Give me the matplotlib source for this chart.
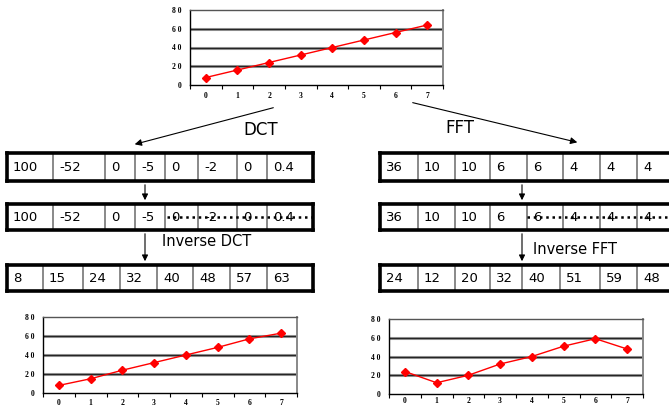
import matplotlib
matplotlib.use('Agg')
import matplotlib.pyplot as plt
import numpy as np

# data
positions = list(range(8))
original = [8, 16, 24, 32, 40, 48, 56, 64]
dctCoef = ['100', '-52', '0', '-5', '0', '-2', '0', '0.4']
inverseDct = [8, 15, 24, 32, 40, 48, 57, 63]
fftCoef = ['36', '10', '10', '6', '6', '4', '4', '4']
inverseFft = [24, 12, 20, 32, 40, 51, 59, 48]
yTicks = [0, 20, 40, 60, 80]

W, H = 669, 408
fig = plt.figure(figsize=(W / 100, H / 100), dpi=100)


def px_axes(left, top, right, bottom):
	return fig.add_axes([left / W, 1 - bottom / H, (right - left) / W, (bottom - top) / H])


# overlay for the tables / arrows, in pixel coords
ov = fig.add_axes([0, 0, 1, 1])
ov.set_xlim(0, W)
ov.set_ylim(H, 0)
ov.axis('off')

tickFont = dict(family='Liberation Serif', weight='bold', size=5.5)
cellFont = dict(family='DejaVu Sans', size=9.5)


def draw_chart(ax, vals, xpad=5):
	for g in [20, 40, 60]:
		ax.axhline(g, color='#8c8c8c', lw=2.2, zorder=1)
		ax.axhline(g, color='#111111', lw=0.6, zorder=1)
	ax.plot(positions, vals, color='red', marker='D', ms=3.8, lw=1, zorder=3)
	ax.set_xlim(-0.5, 7.5)
	ax.set_ylim(0, 80)
	ax.set_xticks(positions)
	ax.set_xticklabels([str(p) for p in positions], fontdict=tickFont)
	ax.set_xticks(np.arange(-0.5, 8, 1), minor=True)
	ax.tick_params(axis='x', which='major', length=0, pad=xpad)
	ax.tick_params(axis='x', which='minor', length=3, width=0.8, direction='out')
	ax.set_yticks(yTicks)
	ax.set_yticklabels([' '.join(str(t)) for t in yTicks], fontdict=tickFont)
	ax.tick_params(axis='y', length=0, pad=6)
	ax.spines['left'].set_linewidth(1)
	ax.spines['bottom'].set_linewidth(1)
	ax.spines['top'].set_color('#555555')
	ax.spines['top'].set_linewidth(1)
	ax.spines['right'].set_color('#888888')
	ax.spines['right'].set_linewidth(1.4)


def draw_row(edges, yTop, yBot, values, dotFrom=None, closeRight=True):
	xl, xr = edges[0], edges[-1]
	for x in edges[1:-1]:
		ov.plot([x, x], [yTop, yBot], color='#6a6a6a', lw=1.1)
	ov.plot([xl, xr], [yTop, yTop], color='black', lw=2.6, solid_capstyle='projecting')
	ov.plot([xl, xr], [yBot, yBot], color='black', lw=2.6, solid_capstyle='projecting')
	ov.plot([xl, xl], [yTop, yBot], color='black', lw=2.6)
	if closeRight:
		ov.plot([xr, xr], [yTop, yBot], color='black', lw=2.6)
	for i, v in enumerate(values):
		ov.text(edges[i] + 6, (yTop + yBot) / 2 + 0.5, v, ha='left', va='center', **cellFont)
	if dotFrom is not None:
		ov.plot([dotFrom, xr], [(yTop + yBot) / 2] * 2, color='black', lw=1.8, ls=(0, (1, 1.5)))


def down_arrow(x, y0, y1):
	ov.annotate('', xy=(x, y1), xytext=(x, y0),
		arrowprops=dict(arrowstyle='-|>', color='black', lw=0.8, mutation_scale=9))


# left side (DCT)
dctEdges = [7, 53, 105, 135, 165, 198, 237, 267, 313]
invDctEdges = [7, 43, 83, 120, 157, 193, 230, 267, 313]
draw_row(dctEdges, 153, 181, dctCoef)
draw_row(dctEdges, 204, 230, dctCoef, dotFrom=167)
draw_row(invDctEdges, 265, 291, [str(v) for v in inverseDct])
down_arrow(145, 182, 203)
down_arrow(145, 231, 264)
ov.text(162, 241, 'Inverse DCT', ha='left', va='center', fontsize=10.5, family='DejaVu Sans')

# right side (FFT)
fftEdges = [380, 418, 455, 490, 527, 563, 600, 637, 680]
invFftEdges = [380, 418, 455, 490, 522, 560, 600, 637, 680]
draw_row(fftEdges, 153, 181, fftCoef, closeRight=False)
draw_row(fftEdges, 204, 230, fftCoef, dotFrom=527, closeRight=False)
draw_row(invFftEdges, 265, 291, [str(v) for v in inverseFft], closeRight=False)
down_arrow(522, 182, 203)
down_arrow(522, 231, 264)
ov.text(533, 250, 'Inverse FFT', ha='left', va='center', fontsize=10.5, family='DejaVu Sans')

# diagonal arrows + labels
ov.annotate('', xy=(132, 145), xytext=(276, 107),
	arrowprops=dict(arrowstyle='-|>', color='black', lw=0.8, mutation_scale=10))
ov.annotate('', xy=(580, 143), xytext=(410, 102),
	arrowprops=dict(arrowstyle='-|>', color='black', lw=0.8, mutation_scale=10))
ov.text(261, 130, 'DCT', ha='center', va='center', fontsize=12, family='DejaVu Sans')
ov.text(460, 128, 'FFT', ha='center', va='center', fontsize=12, family='DejaVu Sans')

# charts
draw_chart(px_axes(190, 10, 443, 85), original)
draw_chart(px_axes(43, 317, 297, 393), inverseDct, xpad=4)
draw_chart(px_axes(389, 319, 643, 394), inverseFft, xpad=2.5)

fig.savefig('out.png', dpi=100)
